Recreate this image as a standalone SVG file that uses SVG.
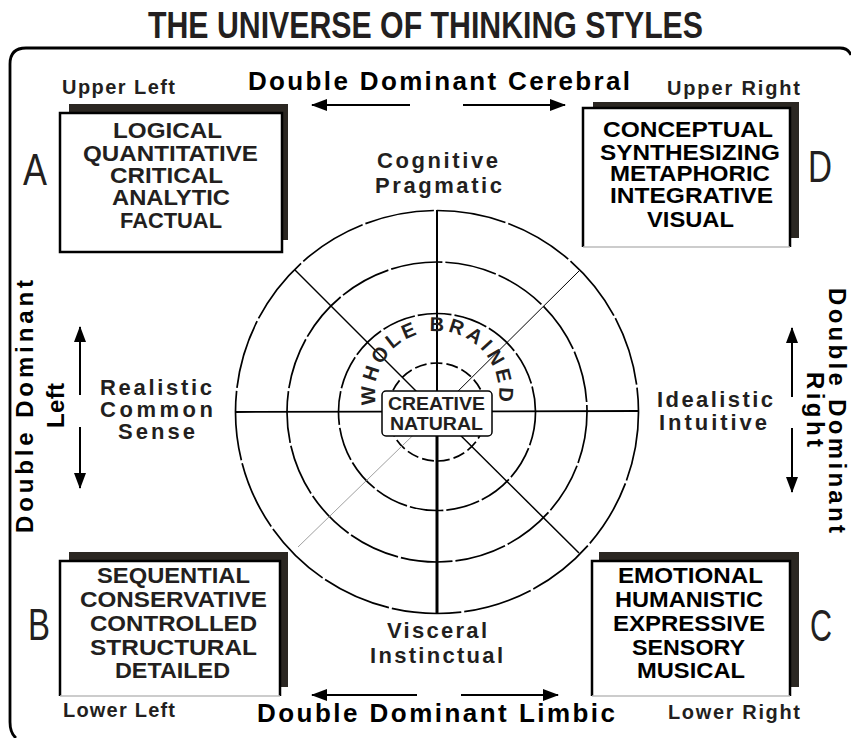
<svg xmlns="http://www.w3.org/2000/svg" width="851" height="738" viewBox="0 0 851 738">
<style>
text{font-family:"Liberation Sans",Arial,Helvetica,sans-serif;font-weight:bold;fill:#231f20}
.big{font-weight:normal;font-size:44px}
.box text{font-size:21.5px}
.blk text{fill:#000}
.lbl{font-size:22px}
.corner{font-size:20px}
.dd{font-size:26px;fill:#000}
.ddv{font-size:24px;fill:#000}
.ring{fill:none;stroke:#000;stroke-width:1.7}
.arr{stroke:#000;stroke-width:2;fill:none;marker-end:url(#ah)}
.shadow{fill:#2b2722}
.face{fill:#fff}
.edge{fill:none;stroke:#000;stroke-width:2.5}
.bot{fill:none;stroke:#bbb;stroke-width:1.5}
</style>
<defs>
<marker id="ah" viewBox="0 0 16 12" refX="15" refY="6" markerWidth="16" markerHeight="12" markerUnits="userSpaceOnUse" orient="auto"><path d="M0,0 L16,6 L0,12 z" fill="#000"/></marker>
<path id="wb" d="M 378.7 414.2 A 62 62 0 1 1 495.3 414.2"/>
</defs>
<rect width="851" height="738" fill="#fff"/>

<g id="title"><text x="148" y="38" font-size="36" textLength="555" lengthAdjust="spacingAndGlyphs">THE UNIVERSE OF THINKING STYLES</text></g>

<g id="frame"><path d="M 16 738 Q 10 733 10 722 L 10 64 Q 10 48 26 48 L 840 48 Q 848 48 851 55" fill="none" stroke="#000" stroke-width="2.8"/></g>

<g id="wheel">
<circle class="ring" cx="437" cy="412" r="201.5" stroke-dasharray="70 3"/>
<circle class="ring" cx="437" cy="412" r="150" stroke-dasharray="52 3"/>
<circle class="ring" cx="437" cy="412" r="98.5" stroke-dasharray="34 3"/>
<circle class="ring" cx="437" cy="412" r="49" stroke-dasharray="12 4"/>
<line x1="437" y1="210" x2="437" y2="412" stroke="#000" stroke-width="2"/>
<line x1="437" y1="412" x2="437" y2="614" stroke="#000" stroke-width="3"/>
<line x1="235" y1="412" x2="638" y2="411" stroke="#000" stroke-width="1.8"/>
<line x1="295" y1="270" x2="437" y2="412" stroke="#000" stroke-width="1.5"/>
<line x1="579" y1="271" x2="437" y2="412" stroke="#000" stroke-width="1"/>
<line x1="579" y1="553" x2="437" y2="412" stroke="#000" stroke-width="1.5"/>
<line x1="298" y1="547" x2="437" y2="412" stroke="#888" stroke-width="0.8"/>
<text font-size="20" letter-spacing="3.6"><textPath href="#wb" startOffset="50%" text-anchor="middle">WHOLE BRAINED</textPath></text>
</g>

<g id="center">
<rect x="382" y="391" width="110" height="45" rx="4" fill="#fff" stroke="#000" stroke-width="1.5"/>
<text x="388" y="410" font-size="19" textLength="97" lengthAdjust="spacingAndGlyphs">CREATIVE</text>
<text x="390" y="430" font-size="19" textLength="93" lengthAdjust="spacingAndGlyphs">NATURAL</text>
</g>

<g id="boxA" class="box">
<rect class="shadow" x="69" y="104" width="219" height="136"/>
<rect class="face" x="60" y="113" width="222" height="139"/>
<rect x="60" y="113" width="222" height="139" fill="none" stroke="#000" stroke-width="2.5"/>
<text x="113" y="138" textLength="109" lengthAdjust="spacingAndGlyphs">LOGICAL</text>
<text x="83" y="161" textLength="175" lengthAdjust="spacingAndGlyphs">QUANTITATIVE</text>
<text x="110" y="183" textLength="113" lengthAdjust="spacingAndGlyphs">CRITICAL</text>
<text x="112" y="205" textLength="118" lengthAdjust="spacingAndGlyphs">ANALYTIC</text>
<text x="120" y="228" textLength="102" lengthAdjust="spacingAndGlyphs">FACTUAL</text>
</g>

<g id="boxD" class="box blk">
<rect class="shadow" x="593" y="102" width="206" height="136"/>
<rect class="face" x="583" y="108" width="207" height="139"/>
<path class="edge" d="M583 247 L583 108 L790 108 L790 247"/>
<path class="bot" d="M583 247 L790 247"/>
<text x="603" y="137" textLength="170" lengthAdjust="spacingAndGlyphs">CONCEPTUAL</text>
<text x="600" y="160" textLength="180" lengthAdjust="spacingAndGlyphs">SYNTHESIZING</text>
<text x="610" y="181" textLength="160" lengthAdjust="spacingAndGlyphs">METAPHORIC</text>
<text x="610" y="203" textLength="163" lengthAdjust="spacingAndGlyphs">INTEGRATIVE</text>
<text x="647" y="227" textLength="87" lengthAdjust="spacingAndGlyphs">VISUAL</text>
</g>

<g id="boxB" class="box">
<rect class="shadow" x="69" y="552" width="219" height="135"/>
<rect class="face" x="60" y="561" width="220" height="135"/>
<path class="edge" d="M60 696 L60 561 L280 561 L280 696"/>
<path class="bot" d="M60 696 L280 696"/>
<text x="97" y="583" textLength="153" lengthAdjust="spacingAndGlyphs">SEQUENTIAL</text>
<text x="80" y="607" textLength="187" lengthAdjust="spacingAndGlyphs">CONSERVATIVE</text>
<text x="90" y="631" textLength="167" lengthAdjust="spacingAndGlyphs">CONTROLLED</text>
<text x="90" y="655" textLength="167" lengthAdjust="spacingAndGlyphs">STRUCTURAL</text>
<text x="115" y="678" textLength="115" lengthAdjust="spacingAndGlyphs">DETAILED</text>
</g>

<g id="boxC" class="box blk">
<rect class="shadow" x="599" y="552" width="200" height="135"/>
<rect class="face" x="592" y="561" width="198" height="135"/>
<path class="edge" d="M592 696 L592 561 L790 561 L790 696"/>
<path class="bot" d="M592 696 L790 696"/>
<text x="618" y="583" textLength="145" lengthAdjust="spacingAndGlyphs">EMOTIONAL</text>
<text x="615" y="607" textLength="148" lengthAdjust="spacingAndGlyphs">HUMANISTIC</text>
<text x="613" y="631" textLength="152" lengthAdjust="spacingAndGlyphs">EXPRESSIVE</text>
<text x="632" y="655" textLength="113" lengthAdjust="spacingAndGlyphs">SENSORY</text>
<text x="637" y="678" textLength="108" lengthAdjust="spacingAndGlyphs">MUSICAL</text>
</g>

<g id="letters">
<text class="big" x="23" y="185" textLength="24" lengthAdjust="spacingAndGlyphs">A</text>
<text class="big" x="808" y="182" textLength="24" lengthAdjust="spacingAndGlyphs">D</text>
<text class="big" x="28" y="640" textLength="22" lengthAdjust="spacingAndGlyphs">B</text>
<text class="big" x="810" y="641" textLength="22" lengthAdjust="spacingAndGlyphs">C</text>
</g>

<g id="quadrant-labels">
<text class="corner" x="62" y="94" textLength="113">Upper  Left</text>
<text class="corner" x="667" y="95" textLength="133">Upper  Right</text>
<text class="corner" x="63" y="717" textLength="112">Lower  Left</text>
<text class="corner" x="668" y="719" textLength="132">Lower  Right</text>
</g>

<g id="dd-labels">
<text class="dd" x="248" y="90" textLength="382">Double  Dominant  Cerebral</text>
<text class="dd" x="257" y="722" textLength="358">Double  Dominant  Limbic</text>
<text class="ddv" transform="translate(33,533) rotate(-90)" x="0" y="0" textLength="253">Double  Dominant</text>
<text class="ddv" transform="translate(64,428) rotate(-90)" x="0" y="0" textLength="45">Left</text>
<text class="ddv" transform="translate(829,288) rotate(90)" x="0" y="0" textLength="245">Double  Dominant</text>
<text class="ddv" transform="translate(807,372) rotate(90)" x="0" y="0" textLength="75">Right</text>
</g>

<g id="axis-labels">
<text class="lbl" x="377" y="168" textLength="121">Cognitive</text>
<text class="lbl" x="375" y="193" textLength="127">Pragmatic</text>
<text class="lbl" x="100" y="395" textLength="112">Realistic</text>
<text class="lbl" x="100" y="417" textLength="113">Common</text>
<text class="lbl" x="118" y="439" textLength="77">Sense</text>
<text class="lbl" x="657" y="407" textLength="116">Idealistic</text>
<text class="lbl" x="659" y="430" textLength="108">Intuitive</text>
<text class="lbl" x="387" y="638" textLength="100">Visceral</text>
<text class="lbl" x="370" y="663" textLength="133">Instinctual</text>
</g>

<g id="connectors">
<path class="arr" d="M410 105 L312 105"/>
<path class="arr" d="M463 105 L565 105"/>
<path class="arr" d="M417 695 L312 695"/>
<path class="arr" d="M461 695 L558 695"/>
<path class="arr" d="M80 395 L80 327"/>
<path class="arr" d="M80 427 L80 488"/>
<path class="arr" d="M792 397 L792 328"/>
<path class="arr" d="M792 428 L792 492" stroke-width="3"/>
</g>
</svg>
